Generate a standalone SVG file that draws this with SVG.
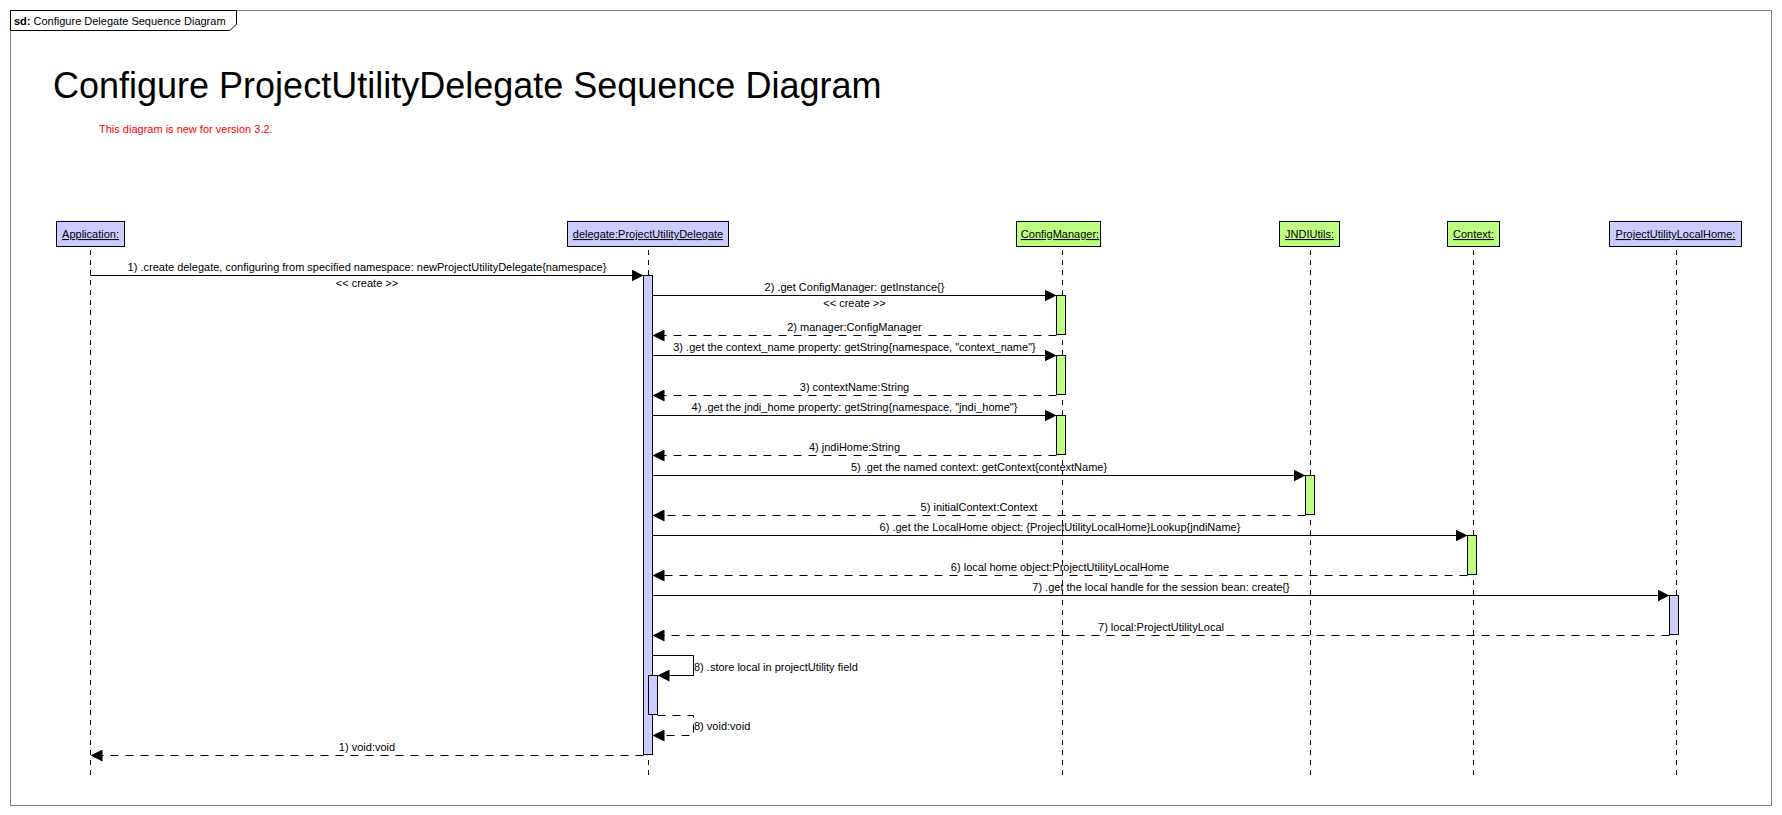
<svg xmlns="http://www.w3.org/2000/svg" width="1782" height="815" viewBox="0 0 1782 815">
<style>
text{font-family:"Liberation Sans",Arial,sans-serif;font-size:11px;fill:#000}
.hd{text-anchor:middle;text-decoration:underline}
.lbl{text-anchor:middle}
.box{stroke:#000;stroke-width:1}
.blue{fill:#CCCCFF}
.green{fill:#BFFF80}
.life{stroke:#000;stroke-width:1;stroke-dasharray:5 5;fill:none}
.msg{stroke:#000;stroke-width:1;fill:none;marker-end:url(#arr)}
.ret{stroke:#000;stroke-width:1;fill:none;stroke-dasharray:8 7;marker-end:url(#arr)}
</style>
<defs>
<marker id="arr" viewBox="0 0 12 12" refX="12" refY="6" markerWidth="12" markerHeight="12" markerUnits="userSpaceOnUse" orient="auto">
<path d="M0,0 L12,6 L0,12 z" fill="#000" stroke="none"/>
</marker>
</defs>
<rect x="0" y="0" width="1782" height="815" fill="#fff"/>
<g id="frame">
<rect x="10.5" y="10.5" width="1761" height="795" fill="none" stroke="#808080"/>
<path d="M10.5,10.5 H236.5 V24 L230,30.5 H10.5 Z" fill="#fff" stroke="#000"/>
<text x="14" y="25"><tspan font-weight="bold">sd:</tspan> Configure Delegate Sequence Diagram</text>
</g>
<g id="title">
<text x="53" y="98" style="font-size:36px">Configure ProjectUtilityDelegate Sequence Diagram</text>
<text x="99" y="133" style="fill:#FF0000">This diagram is new for version 3.2.</text>
</g>
<g id="lifelines">
<line class="life" x1="90.5" y1="250" x2="90.5" y2="775"/>
<line class="life" x1="648.5" y1="250" x2="648.5" y2="775"/>
<line class="life" x1="1062.5" y1="250" x2="1062.5" y2="775"/>
<line class="life" x1="1310.5" y1="250" x2="1310.5" y2="775"/>
<line class="life" x1="1473.5" y1="250" x2="1473.5" y2="775"/>
<line class="life" x1="1676.5" y1="250" x2="1676.5" y2="775"/>
</g>
<g id="application">
<rect class="box blue" x="56.5" y="221.5" width="68" height="25"/>
<text class="hd" x="90.5" y="238">Application:</text>
</g>
<g id="delegate">
<rect class="box blue" x="567.5" y="221.5" width="161" height="25"/>
<text class="hd" x="648" y="238">delegate:ProjectUtilityDelegate</text>
<rect class="box blue" x="643.5" y="275.5" width="9" height="479"/>
<rect class="box blue" x="648.5" y="675.5" width="9" height="39"/>
</g>
<g id="configmanager">
<rect class="box green" x="1016.5" y="221.5" width="84" height="25"/>
<text class="hd" x="1060" y="238">ConfigManager:</text>
<rect class="box green" x="1056.5" y="295.5" width="9" height="39"/>
<rect class="box green" x="1056.5" y="355.5" width="9" height="39"/>
<rect class="box green" x="1056.5" y="415.5" width="9" height="39"/>
</g>
<g id="jndiutils">
<rect class="box green" x="1279.5" y="221.5" width="60" height="25"/>
<text class="hd" x="1309.5" y="238">JNDIUtils:</text>
<rect class="box green" x="1305.5" y="475.5" width="9" height="39"/>
</g>
<g id="context">
<rect class="box green" x="1447.5" y="221.5" width="52" height="25"/>
<text class="hd" x="1473.5" y="238">Context:</text>
<rect class="box green" x="1467.5" y="535.5" width="9" height="39"/>
</g>
<g id="localhome">
<rect class="box blue" x="1609.5" y="221.5" width="132" height="25"/>
<text class="hd" x="1675.5" y="238">ProjectUtilityLocalHome:</text>
<rect class="box blue" x="1669.5" y="595.5" width="9" height="39"/>
</g>
<g id="connectors">
<line class="msg" x1="90.5" y1="275.5" x2="643.5" y2="275.5"/>
<text class="lbl" x="367" y="271">1) .create delegate, configuring from specified namespace: newProjectUtilityDelegate{namespace}</text>
<text class="lbl" x="367" y="287">&lt;&lt; create &gt;&gt;</text>

<line class="msg" x1="652.5" y1="295.5" x2="1056.5" y2="295.5"/>
<text class="lbl" x="854.5" y="291">2) .get ConfigManager: getInstance{}</text>
<text class="lbl" x="854.5" y="307">&lt;&lt; create &gt;&gt;</text>
<line class="ret" x1="1056.5" y1="335.5" x2="652.5" y2="335.5"/>
<text class="lbl" x="854.5" y="331">2) manager:ConfigManager</text>

<line class="msg" x1="652.5" y1="355.5" x2="1056.5" y2="355.5"/>
<text class="lbl" x="854.5" y="351">3) .get the context_name property: getString{namespace, "context_name"}</text>
<line class="ret" x1="1056.5" y1="395.5" x2="652.5" y2="395.5"/>
<text class="lbl" x="854.5" y="391">3) contextName:String</text>

<line class="msg" x1="652.5" y1="415.5" x2="1056.5" y2="415.5"/>
<text class="lbl" x="854.5" y="411">4) .get the jndi_home property: getString{namespace, "jndi_home"}</text>
<line class="ret" x1="1056.5" y1="455.5" x2="652.5" y2="455.5"/>
<text class="lbl" x="854.5" y="451">4) jndiHome:String</text>

<line class="msg" x1="652.5" y1="475.5" x2="1305.5" y2="475.5"/>
<text class="lbl" x="979" y="471">5) .get the named context: getContext{contextName}</text>
<line class="ret" x1="1305.5" y1="515.5" x2="652.5" y2="515.5"/>
<text class="lbl" x="979" y="511">5) initialContext:Context</text>

<line class="msg" x1="652.5" y1="535.5" x2="1467.5" y2="535.5"/>
<text class="lbl" x="1060" y="531">6) .get the LocalHome object: {ProjectUtilityLocalHome}Lookup{jndiName}</text>
<line class="ret" x1="1467.5" y1="575.5" x2="652.5" y2="575.5"/>
<text class="lbl" x="1060" y="571">6) local home object:ProjectUtilityLocalHome</text>

<line class="msg" x1="652.5" y1="595.5" x2="1669.5" y2="595.5"/>
<text class="lbl" x="1161" y="591">7) .get the local handle for the session bean: create{}</text>
<line class="ret" x1="1669.5" y1="635.5" x2="652.5" y2="635.5"/>
<text class="lbl" x="1161" y="631">7) local:ProjectUtilityLocal</text>

<polyline class="msg" points="652.5,655.5 693.5,655.5 693.5,675.5 657.5,675.5"/>
<text x="694" y="671">8) .store local in projectUtility field</text>
<polyline class="ret" points="657.5,715.5 693.5,715.5 693.5,735.5 652.5,735.5"/>
<text x="694" y="730">8) void:void</text>

<line class="ret" x1="643.5" y1="755.5" x2="90.5" y2="755.5"/>
<text class="lbl" x="367" y="751">1) void:void</text>
</g>
</svg>
